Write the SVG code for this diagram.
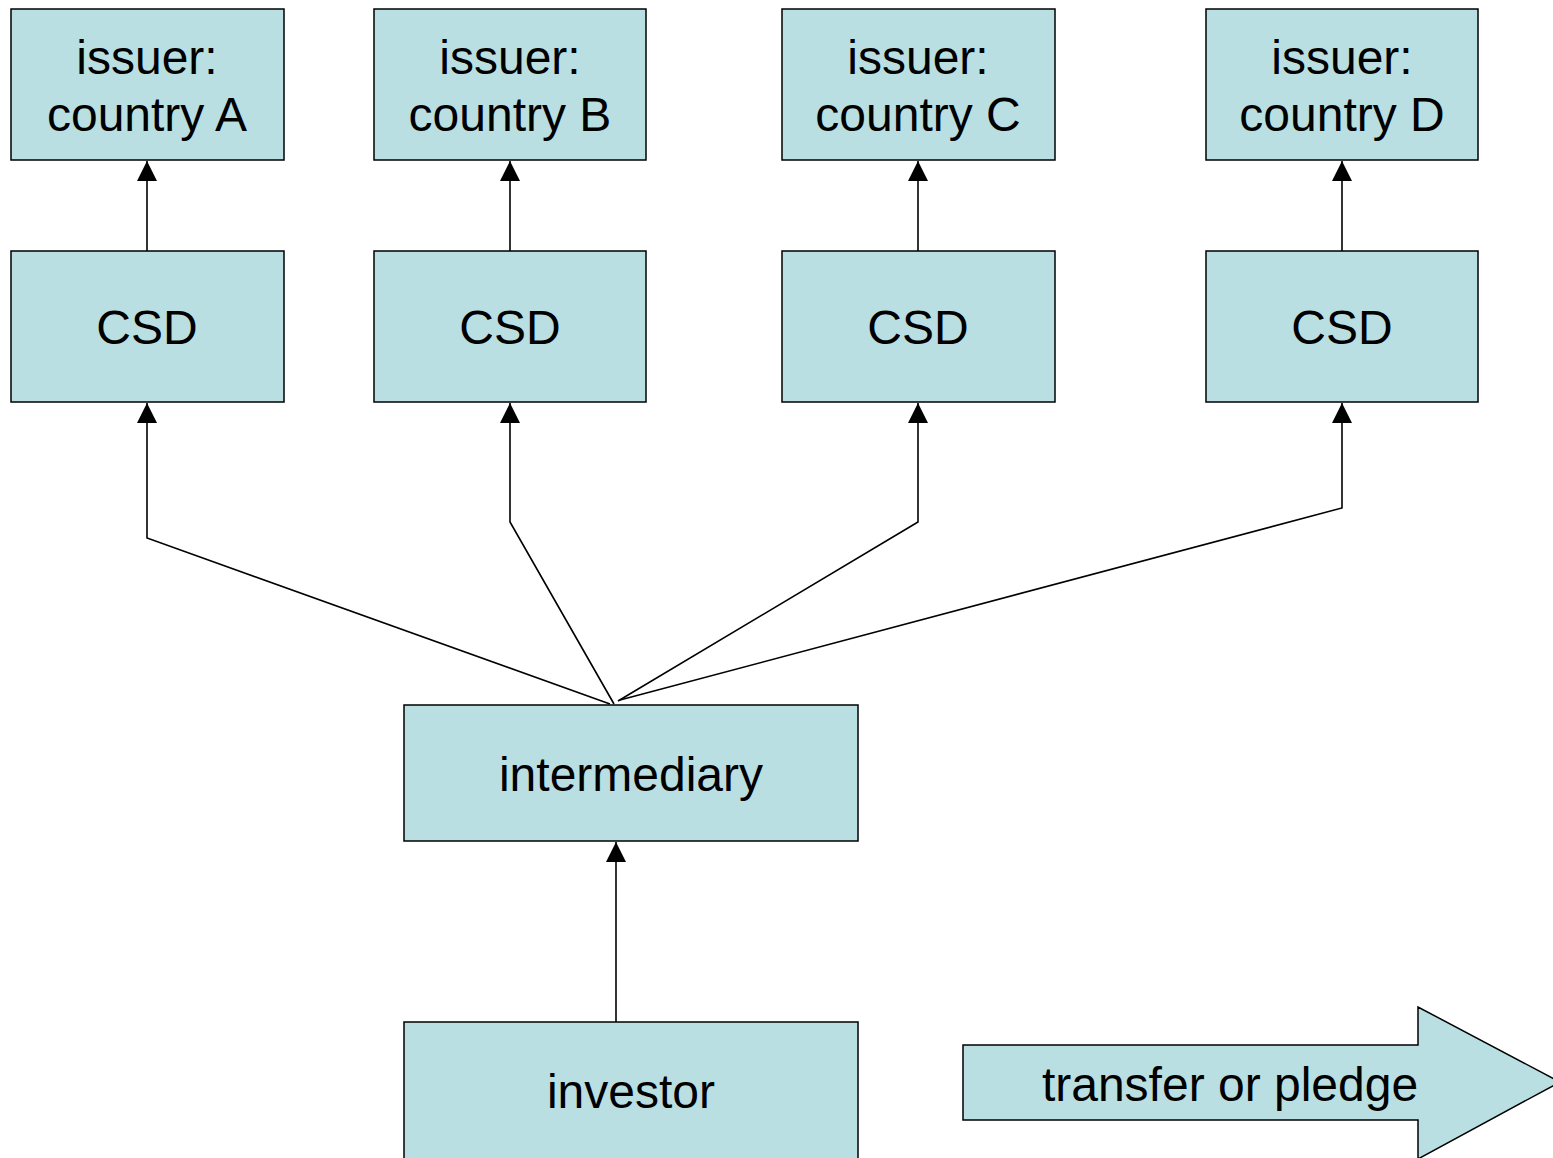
<svg xmlns="http://www.w3.org/2000/svg" width="1553" height="1158" viewBox="0 0 1553 1158">
  <style>
    .box { fill: #b9dfe2; stroke: #000; stroke-width: 1.5; }
    .lbl { font-family: "Liberation Sans", Arial, sans-serif; font-size: 48px; fill: #000; text-anchor: middle; }
    .conn { fill: none; stroke: #000; stroke-width: 1.6; }
  </style>
  <defs>
    <marker id="head" viewBox="0 0 20 20" refX="20" refY="10" markerWidth="20" markerHeight="20" markerUnits="userSpaceOnUse" orient="auto">
      <path d="M0,0 L20,10 L0,20 Z" fill="#000"/>
    </marker>
  </defs>
  <rect width="1553" height="1158" fill="#fff"/>

  <!-- issuers -->
  <g id="issuer-a"><rect class="box" x="11" y="9" width="273" height="151"/><text class="lbl" x="147" y="74">issuer:</text><text class="lbl" x="147" y="131">country A</text></g>
  <g id="issuer-b"><rect class="box" x="374" y="9" width="272" height="151"/><text class="lbl" x="510" y="74">issuer:</text><text class="lbl" x="510" y="131">country B</text></g>
  <g id="issuer-c"><rect class="box" x="782" y="9" width="273" height="151"/><text class="lbl" x="918" y="74">issuer:</text><text class="lbl" x="918" y="131">country C</text></g>
  <g id="issuer-d"><rect class="box" x="1206" y="9" width="272" height="151"/><text class="lbl" x="1342" y="74">issuer:</text><text class="lbl" x="1342" y="131">country D</text></g>

  <!-- central securities depositories -->
  <g id="csd-a"><rect class="box" x="11" y="251" width="273" height="151"/><text class="lbl" x="147" y="344">CSD</text></g>
  <g id="csd-b"><rect class="box" x="374" y="251" width="272" height="151"/><text class="lbl" x="510" y="344">CSD</text></g>
  <g id="csd-c"><rect class="box" x="782" y="251" width="273" height="151"/><text class="lbl" x="918" y="344">CSD</text></g>
  <g id="csd-d"><rect class="box" x="1206" y="251" width="272" height="151"/><text class="lbl" x="1342" y="344">CSD</text></g>

  <g id="intermediary"><rect class="box" x="404" y="705" width="454" height="136"/><text class="lbl" x="631" y="791">intermediary</text></g>
  <g id="investor"><rect class="box" x="404" y="1022" width="454" height="150"/><text class="lbl" x="631" y="1108">investor</text></g>

  <g id="transfer-arrow">
    <polygon class="box" points="963,1045 1418,1045 1418,1007 1560,1082 1418,1159 1418,1120 963,1120"/>
    <text class="lbl" x="1230" y="1101">transfer or pledge</text>
  </g>

  <g id="connectors">
    <line class="conn" x1="147" y1="251" x2="147" y2="161" marker-end="url(#head)"/>
    <line class="conn" x1="510" y1="251" x2="510" y2="161" marker-end="url(#head)"/>
    <line class="conn" x1="918" y1="251" x2="918" y2="161" marker-end="url(#head)"/>
    <line class="conn" x1="1342" y1="251" x2="1342" y2="161" marker-end="url(#head)"/>

    <polyline class="conn" points="610,704 147,538 147,403" marker-end="url(#head)"/>
    <polyline class="conn" points="614,704 510,522 510,403" marker-end="url(#head)"/>
    <polyline class="conn" points="618,701 918,522 918,403" marker-end="url(#head)"/>
    <polyline class="conn" points="620,700 1342,508 1342,403" marker-end="url(#head)"/>

    <line class="conn" x1="616" y1="1022" x2="616" y2="842" marker-end="url(#head)"/>
  </g>
</svg>
